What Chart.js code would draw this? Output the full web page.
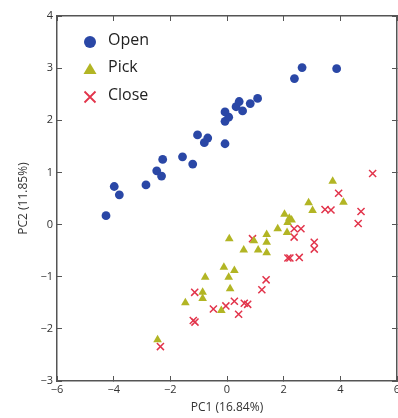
<!DOCTYPE html>
<html>
<head>
<meta charset="utf-8">
<script src="https://cdn.jsdelivr.net/npm/chart.js@4/dist/chart.umd.min.js"></script>
<style>
  body { margin: 0; background: #fff; }
  canvas { display: block; }
</style>
</head>
<body>
<canvas id="pcaChart" width="398" height="418"></canvas>
<script>
// PCA scores
const openX = [-4.27, -3.98, -3.80, -2.86, -2.48, -2.31, -2.27, -1.57, -1.21, -1.04, -0.68, -0.80,
  -0.07, -0.07, 0.06, -0.07, 0.32, 0.43, 0.55, 0.82, 1.08, 2.38, 2.65, 3.87];
const openY = [0.17, 0.73, 0.57, 0.76, 1.03, 0.93, 1.25, 1.30, 1.16, 1.72, 1.66, 1.57,
  1.55, 1.98, 2.06, 2.16, 2.26, 2.36, 2.18, 2.32, 2.42, 2.80, 3.01, 2.99];

const pickX = [3.73, 2.88, 3.02, 4.11, 2.03, 2.14, 2.28, 2.20, 1.79, 2.12, 1.40, 1.40, 1.40,
  0.95, 1.10, 0.59, 0.08, -0.11, 0.26, 0.06, 0.11, -0.77, -0.86, -0.86, -0.20, -1.47, -2.45];
const pickY = [0.83, 0.42, 0.27, 0.43, 0.20, 0.04, 0.09, 0.12, -0.08, -0.15, -0.19, -0.34, -0.54,
  -0.31, -0.49, -0.49, -0.27, -0.82, -0.88, -1.01, -1.23, -1.01, -1.30, -1.42, -1.65, -1.50, -2.21];

const closeX = [5.14, 3.94, 3.46, 3.67, 4.73, 4.63, 2.37, 2.61, 2.37, 0.90, 3.08, 3.08,
  2.15, 2.22, 2.55, 1.38, 1.23, -1.14, 0.26, -0.04, -0.48, 0.61, 0.73, 0.41, -1.19, -1.13, -2.35];
const closeY = [0.98, 0.60, 0.29, 0.28, 0.25, 0.02, -0.08, -0.08, -0.24, -0.27, -0.34, -0.47,
  -0.64, -0.64, -0.63, -1.06, -1.25, -1.30, -1.47, -1.56, -1.62, -1.51, -1.53, -1.72, -1.84, -1.87, -2.34];

const seriesNames = ["Open", "Pick", "Close"];
const xTicks = [-6, -4, -2, 0, 2, 4, 6];
const yTicks = [-3, -2, -1, 0, 1, 2, 3, 4];

const blue = "#2a47a6";
const olive = "#b2b524";
const red = "#e2344b";
const frameColor = "#555";

function toPoints(xs, ys) {
  return xs.map((x, i) => ({ x: x, y: ys[i] }));
}

function minus(v) {
  return String(v).replace("-", "\u2212");
}

// axis with a border and short tick marks pointing into the plot
function boxAxis(position, min, max, tickValues, showLabels) {
  const horizontal = position === "top" || position === "bottom";
  return {
    type: "linear",
    position: position,
    min: min,
    max: max,
    afterBuildTicks: scale => { scale.ticks = tickValues.map(v => ({ value: v })); },
    afterFit: scale => {
      if (horizontal) {
        scale.height = showLabels ? 37 : 0;
        scale.paddingLeft = 0;
        scale.paddingRight = 0;
      } else {
        scale.width = showLabels ? 57 : 0;
        scale.paddingTop = 0;
        scale.paddingBottom = 0;
      }
    },
    grid: {
      display: true,
      drawOnChartArea: false,
      drawTicks: true,
      tickLength: -5,
      color: frameColor,
      lineWidth: 1
    },
    border: { display: true, color: frameColor, width: 1.5 },
    ticks: {
      display: showLabels,
      color: "#333",
      font: { family: "'Open Sans'", size: 11 },
      padding: horizontal ? 7 : 9,
      maxRotation: 0,
      callback: minus
    }
  };
}

// legend in the upper-left corner of the axes
const cornerLegend = {
  id: "cornerLegend",
  afterDraw(chart) {
    const c = chart.ctx;
    const a = chart.chartArea;
    const mx = a.left + 33;
    const tx = a.left + 51;
    const rows = [a.top + 25, a.top + 52, a.top + 80];
    c.save();
    c.fillStyle = blue;
    c.beginPath();
    c.arc(mx, rows[0] + 1, 6, 0, Math.PI * 2);
    c.fill();
    c.fillStyle = olive;
    c.beginPath();
    c.moveTo(mx, rows[1] - 5);
    c.lineTo(mx + 6.5, rows[1] + 6);
    c.lineTo(mx - 6.5, rows[1] + 6);
    c.closePath();
    c.fill();
    c.strokeStyle = red;
    c.lineWidth = 1.8;
    c.beginPath();
    c.moveTo(mx - 5.5, rows[2] - 4.5); c.lineTo(mx + 5.5, rows[2] + 6.5);
    c.moveTo(mx + 5.5, rows[2] - 4.5); c.lineTo(mx - 5.5, rows[2] + 6.5);
    c.stroke();
    c.fillStyle = "#222";
    c.font = "16px 'Open Sans'";
    c.textBaseline = "middle";
    c.textAlign = "left";
    seriesNames.forEach((name, i) => c.fillText(name, tx, rows[i] - 1));
    c.restore();
  }
};

const xAxis = boxAxis("bottom", -6, 6, xTicks, true);
xAxis.title = {
  display: true,
  text: "PC1 (16.84%)",
  color: "#333",
  font: { family: "'Open Sans'", size: 12 },
  padding: { top: 0, bottom: 3 }
};
const yAxis = boxAxis("left", -3, 4, yTicks, true);
yAxis.title = {
  display: true,
  text: "PC2 (11.85%)",
  color: "#333",
  font: { family: "'Open Sans'", size: 12 },
  padding: { top: 16, bottom: 0 }
};

new Chart(document.getElementById("pcaChart"), {
  type: "scatter",
  data: {
    datasets: [
      {
        label: seriesNames[0],
        data: toPoints(openX, openY),
        pointStyle: "circle",
        pointRadius: 4.4,
        backgroundColor: blue,
        borderColor: blue,
        borderWidth: 0
      },
      {
        label: seriesNames[1],
        data: toPoints(pickX, pickY),
        pointStyle: "triangle",
        pointRadius: 5,
        backgroundColor: olive,
        borderColor: olive,
        borderWidth: 0
      },
      {
        label: seriesNames[2],
        data: toPoints(closeX, closeY),
        pointStyle: "crossRot",
        pointRadius: 5,
        backgroundColor: red,
        borderColor: red,
        borderWidth: 1.5
      }
    ]
  },
  options: {
    responsive: false,
    animation: false,
    layout: { autoPadding: false, padding: { top: 16, right: 1, left: 0, bottom: 0 } },
    plugins: {
      legend: { display: false },
      tooltip: { enabled: false }
    },
    scales: {
      x: xAxis,
      y: yAxis,
      x2: boxAxis("top", -6, 6, xTicks, false),
      y2: boxAxis("right", -3, 4, yTicks, false)
    }
  },
  plugins: [cornerLegend]
});
</script>
</body>
</html>
